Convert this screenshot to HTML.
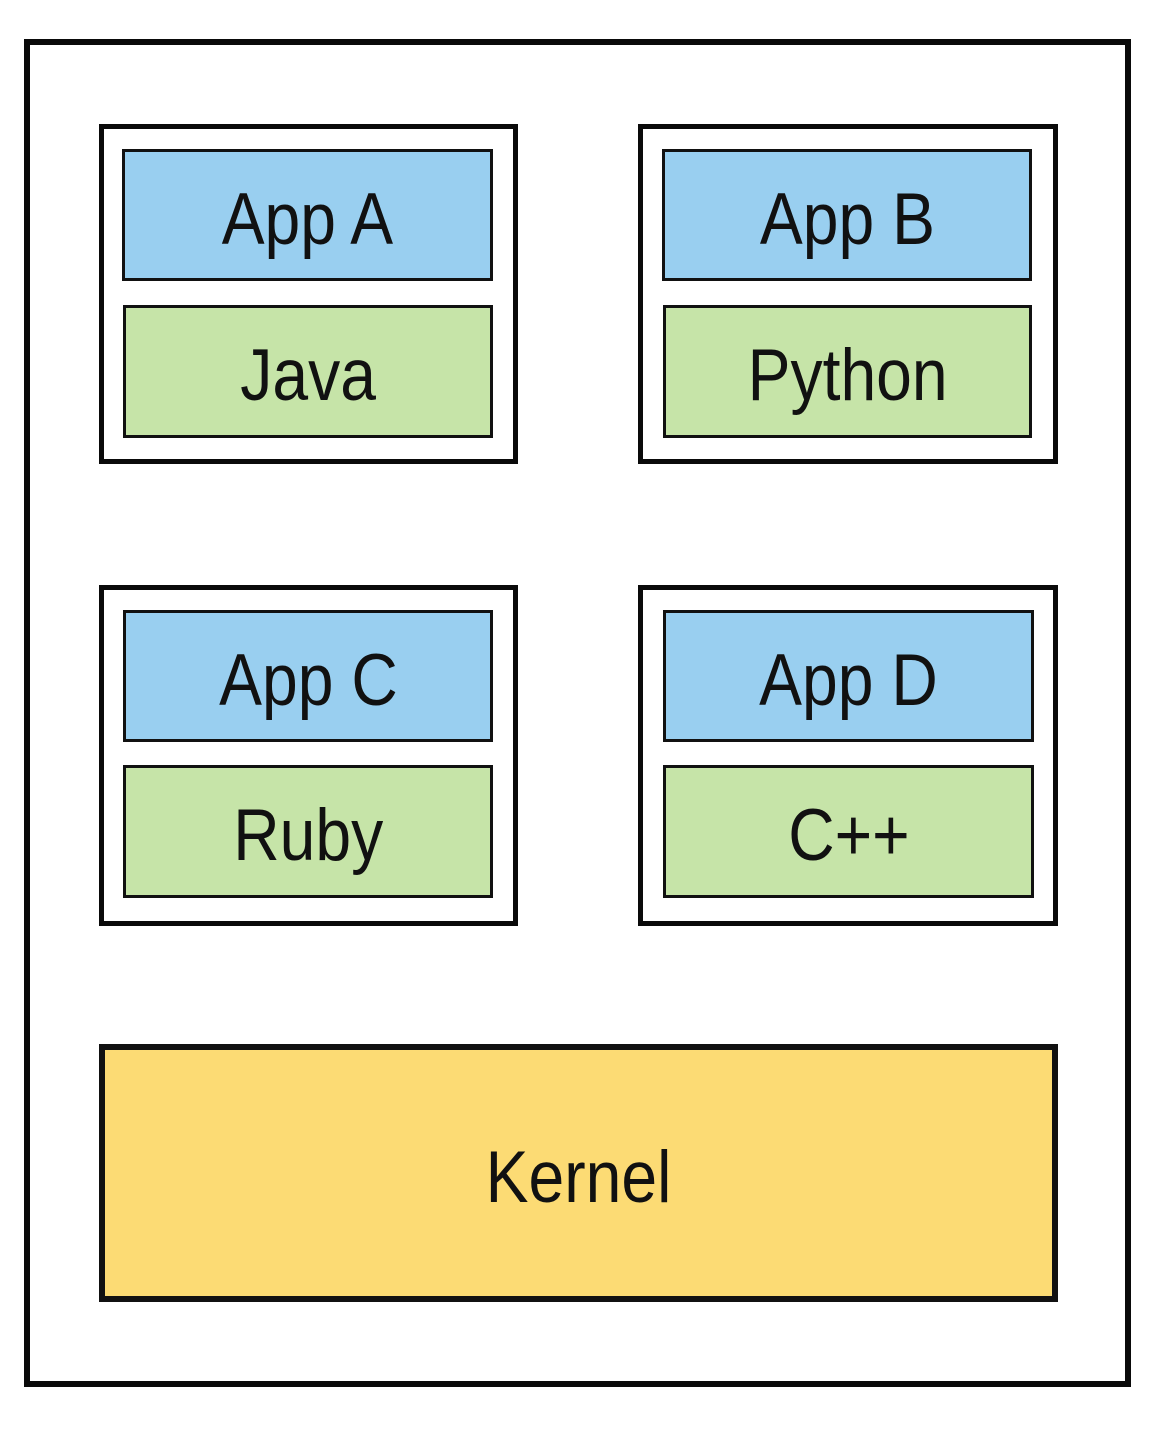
<!DOCTYPE html>
<html><head><meta charset="utf-8"><style>
html,body{margin:0;padding:0;background:#fff;}
body{width:1168px;height:1430px;position:relative;overflow:hidden;font-family:"Liberation Sans",Arial,sans-serif;}
.b{position:absolute;box-sizing:border-box;border:5px solid #0a0a0a;}
.t{position:absolute;box-sizing:border-box;border:3px solid #111;display:flex;align-items:center;justify-content:center;font-size:73px;color:#111;}
.t span{display:inline-block;transform:translateY(4px) scaleX(0.88);}
.blue{background:#99cff0;}
.green{background:#c6e4a8;}
</style></head><body>
<div class="b" style="left:24px;top:39px;width:1107px;height:1348px;border-width:6px;"></div>

<div class="b" style="left:99px;top:124px;width:419px;height:340px;"></div>
<div class="t blue" style="left:122px;top:149px;width:371px;height:132px;"><span>App A</span></div>
<div class="t green" style="left:123px;top:305px;width:370px;height:133px;"><span>Java</span></div>

<div class="b" style="left:638px;top:124px;width:420px;height:340px;"></div>
<div class="t blue" style="left:662px;top:149px;width:370px;height:132px;"><span>App B</span></div>
<div class="t green" style="left:663px;top:305px;width:369px;height:133px;"><span>Python</span></div>

<div class="b" style="left:99px;top:585px;width:419px;height:341px;"></div>
<div class="t blue" style="left:123px;top:610px;width:370px;height:132px;"><span>App C</span></div>
<div class="t green" style="left:123px;top:765px;width:370px;height:133px;"><span>Ruby</span></div>

<div class="b" style="left:638px;top:585px;width:420px;height:341px;"></div>
<div class="t blue" style="left:663px;top:610px;width:371px;height:132px;"><span>App D</span></div>
<div class="t green" style="left:663px;top:765px;width:371px;height:133px;"><span>C++</span></div>

<div class="t" style="left:99px;top:1044px;width:959px;height:258px;border-width:6px;background:#fcdb74;"><span>Kernel</span></div>
</body></html>
